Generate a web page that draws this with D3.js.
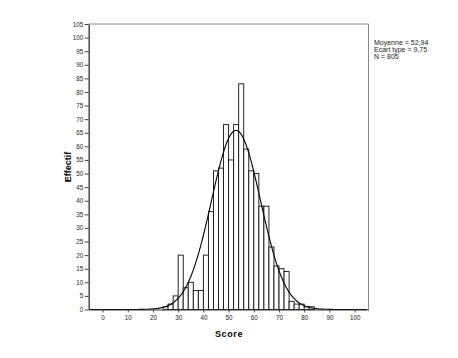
<!DOCTYPE html>
<html><head><meta charset="utf-8">
<script src="https://cdn.jsdelivr.net/npm/d3@7"></script>
<style>body{margin:0;background:#fff}svg{display:block}</style>
</head><body>
<script>
// Data (bins of width 2)
const binStarts = [24,26,28,30,32,34,36,38,40,42,44,46,48,50,52,54,56,58,60,62,64,66,68,70,72,74,76,78,80,82];
const counts    = [1, 2, 5, 20, 8, 10, 7, 7, 20, 36, 51, 52, 68, 55, 68, 83, 59, 51, 50, 38, 38, 23, 16, 15, 14, 3, 2, 2, 1, 1];
const binWidth = 2;
const mean = 52.94, sd = 9.75, n = 805;
const statLines = ["Moyenne = 52,94", "Ecart type = 9,75", "N = 805"];
const xTicks = [0,10,20,30,40,50,60,70,80,90,100];
const yTicks = [0,5,10,15,20,25,30,35,40,45,50,55,60,65,70,75,80,85,90,95,100,105];

const W = 458, H = 358;
const svg = d3.select("body").append("svg").attr("width", W).attr("height", H);

const x = d3.scaleLinear().domain([-5.5, 105.5]).range([88.7, 368.5]);
const y = d3.scaleLinear().domain([0, 105]).range([309.5, 24]);
const font = "Arial, 'Liberation Sans', sans-serif";

// frame (top & right)
svg.append("path")
  .attr("d", `M${x.range()[0]},${y(105)}H${x.range()[1]}V${y(0)}`)
  .attr("fill", "none").attr("stroke", "#8a8a8a").attr("stroke-width", 1);

// bars
svg.append("g").selectAll("rect").data(binStarts).join("rect")
  .attr("x", (d) => x(d))
  .attr("width", (d) => x(d + binWidth) - x(d))
  .attr("y", (d, i) => y(counts[i]))
  .attr("height", (d, i) => y(0) - y(counts[i]))
  .attr("fill", "#fff").attr("stroke", "#111").attr("stroke-width", 0.9);

// normal curve
const pts = d3.range(-5, 105.01, 0.25).map(v => [v, n * binWidth * Math.exp(-0.5 * ((v - mean) / sd) ** 2) / (sd * Math.sqrt(2 * Math.PI))]);
svg.append("path").datum(pts)
  .attr("d", d3.line().x(d => x(d[0])).y(d => y(d[1])).curve(d3.curveBasis))
  .attr("fill", "none").attr("stroke", "#000").attr("stroke-width", 1.1);

// axes
const yAxis = d3.axisLeft(y).tickValues(yTicks).tickSize(4).tickPadding(1.5).tickSizeOuter(0);
const gy = svg.append("g").attr("transform", `translate(${x.range()[0]},0)`).call(yAxis);
gy.select(".domain").attr("stroke", "#555").attr("stroke-width", 1.6);
gy.selectAll(".tick line").attr("stroke", "#444");
gy.selectAll("text").attr("font-family", font).attr("font-size", "6.3px").attr("fill", "#222");

const xAxis = d3.axisBottom(x).tickValues(xTicks).tickSize(3).tickPadding(3).tickSizeOuter(0);
const gx = svg.append("g").attr("transform", `translate(0,${y(0)})`).call(xAxis);
gx.select(".domain").attr("stroke", "#333").attr("stroke-width", 1.2);
gx.selectAll(".tick line").attr("stroke", "#444");
gx.selectAll("text").attr("font-family", font).attr("font-size", "6.3px").attr("fill", "#222");

// axis titles
svg.append("text").attr("x", 229).attr("y", 337).attr("text-anchor", "middle")
  .attr("font-family", font).attr("font-weight", "bold").attr("font-size", "9px")
  .attr("letter-spacing", "0.6px").text("Score");
svg.append("text").attr("transform", "translate(71,167) rotate(-90)").attr("text-anchor", "middle")
  .attr("font-family", font).attr("font-weight", "bold").attr("font-size", "9px")
  .text("Effectif");

// stats
svg.append("g").selectAll("text").data(statLines).join("text")
  .attr("x", 374).attr("y", (d, i) => 44.5 + i * 7.2)
  .attr("font-family", font).attr("font-size", "7px").attr("fill", "#222")
  .text(d => d);
</script>
</body></html>
